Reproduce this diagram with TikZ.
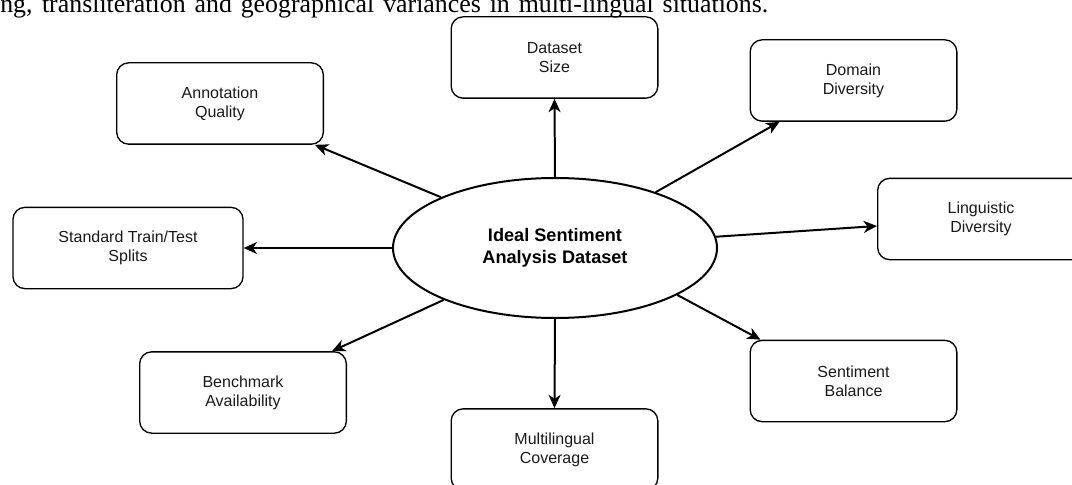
\documentclass[tikz,border=0pt]{standalone}
\usepackage{fontspec}
\setmainfont{Liberation Sans}
\newfontfamily\bodyserif{Liberation Serif}
\usetikzlibrary{shapes.geometric,arrows.meta,calc}

\begin{document}
\begin{tikzpicture}[x=0.75pt,y=-0.75pt,
  topic/.style={draw=black, line width=1pt, rounded corners=9pt,
    minimum width=155pt, minimum height=61pt, align=center,
    font=\fontsize{12}{14.3}\selectfont, text=black!90},
  hub/.style={ellipse, draw=black, line width=1.5pt, inner sep=0pt,
    minimum width=243pt, minimum height=105pt, align=center,
    font=\fontsize{13.6}{16.5}\selectfont\bfseries},
  link/.style={line width=1.5pt, -{Stealth[length=10pt,width=9pt,inset=3pt]}}]

\useasboundingbox (0,0) rectangle (1072,485);

% last line of the paragraph above the figure
\node[anchor=base west, inner sep=0pt, font=\bodyserif\fontsize{19.4}{22}\selectfont]
  (para) at (0,13)
  {\makebox[576pt][s]{ng, transliteration and geographical variances in multi-lingual situations.}};

% central concept
\node[hub] (c) at (555,248) {Ideal Sentiment\\Analysis Dataset};

% surrounding properties
\node[topic] (size)  at (554.5,57.5)  {Dataset\\Size};
\node[topic] (dom)   at (853.5,80.5)  {Domain\\Diversity};
\node[topic] (ling)  at (981,219)     {Linguistic\\Diversity};
\node[topic] (bal)   at (853.5,381)   {Sentiment\\Balance};
\node[topic] (multi) at (554.5,449.5) {Multilingual\\Coverage};
\node[topic] (bench) at (243,392.5)   {Benchmark\\Availability};
\node[topic, minimum width=172.5pt] (std) at (128,248) {Standard Train/Test\\Splits};
\node[topic] (ann)   at (220,103.5)   {Annotation\\Quality};

% connectors
\draw[link] (c.north) -- (size.south);
\draw[link] (c.29)    -- ($(dom.south west)+(30,0)$);
\draw[link] (c.4)     -- ($(ling.west)+(0,7)$);
\draw[link] (c.-21)   -- ($(bal.north west)+(11,0)$);
\draw[link] (c.south) -- (multi.north);
\draw[link] (c.205)   -- ($(bench.north east)+(-15,0)$);
\draw[link] (c.west)  -- (std.east);
\draw[link] (c.156)   -- ($(ann.south east)+(-9,0)$);
\end{tikzpicture}
\end{document}
